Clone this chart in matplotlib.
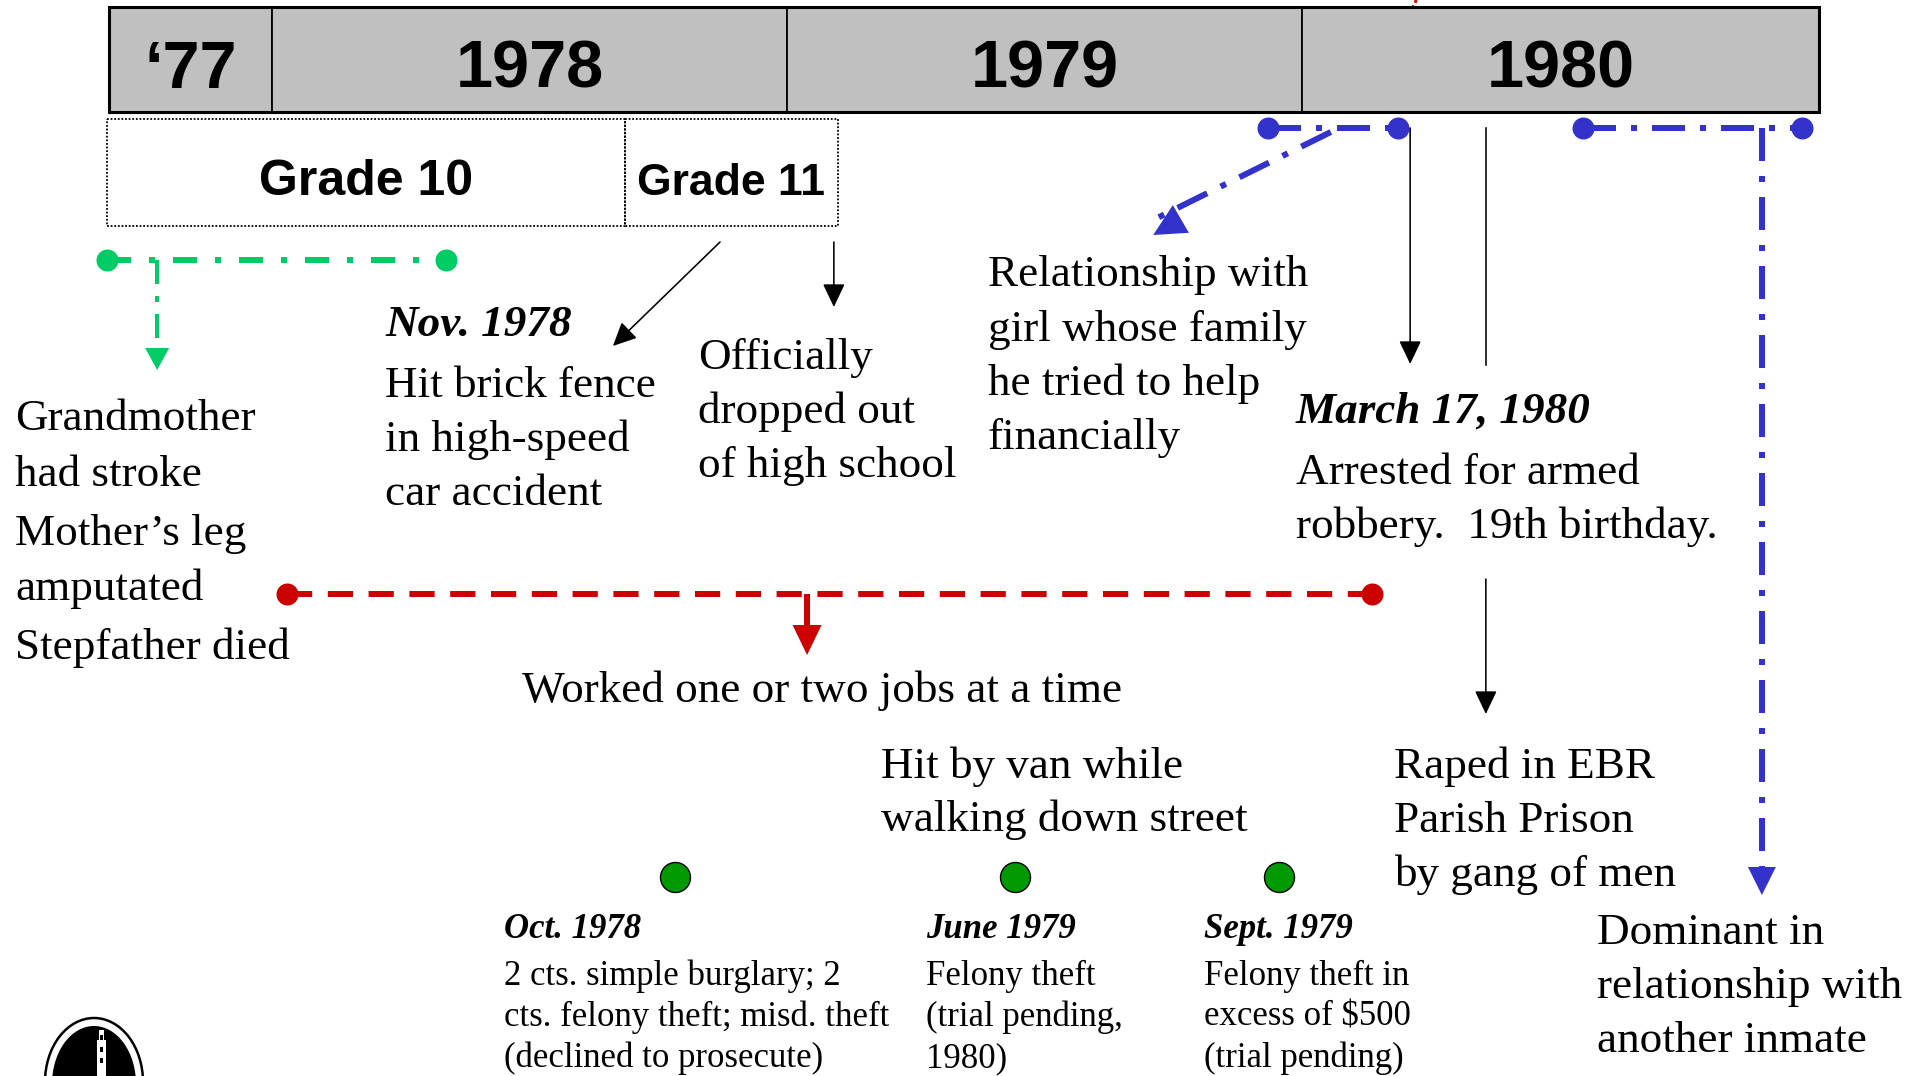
import matplotlib
matplotlib.use("Agg")
import matplotlib.pyplot as plt
from matplotlib.patches import Rectangle, Ellipse, FancyArrowPatch

# ---------------- data ----------------
year_labels = ["\u201877", "1978", "1979", "1980"]
year_edges = [1977.683, 1978.0, 1979.0, 1980.0, 1981.004]

grade_labels = ["Grade 10", "Grade 11"]
grade_edges = [1977.68, 1978.685, 1979.099]

green_span = [1977.68, 1978.338]
green_drop = 1977.777
red_span = [1978.029, 1980.136]
red_drop = 1979.039
blue_span1 = [1979.934, 1980.186]
blue_diag = [1980.056, 1979.711]
blue_span2 = [1980.546, 1980.971]
blue_drop = 1980.893

nov78_arrow = [1978.870, 1978.662]
dropout_date = 1979.091
arrest_date = 1980.210
prison_date = 1980.357

family_lines = ["Grandmother", "had stroke", "Mother\u2019s leg", "amputated", "Stepfather died"]
crash_head = "Nov. 1978"
crash_lines = ["Hit brick fence", "in high-speed", "car accident"]
dropout_lines = ["Officially", "dropped out", "of high school"]
girl_lines = ["Relationship with", "girl whose family", "he tried to help", "financially"]
arrest_head = "March 17, 1980"
arrest_lines = ["Arrested for armed", "robbery.  19th birthday."]
jobs_text = "Worked one or two jobs at a time"
van_lines = ["Hit by van while", "walking down street"]
prison_lines = ["Raped in EBR", "Parish Prison", "by gang of men"]
inmate_lines = ["Dominant in", "relationship with", "another inmate"]

offense_dates = [1978.783, 1979.443, 1979.955]
offense_heads = ["Oct. 1978", "June 1979", "Sept. 1979"]
offense_text = [
    ["2 cts. simple burglary; 2", "cts. felony theft; misd. theft", "(declined to prosecute)"],
    ["Felony theft", "(trial pending,", "1980)"],
    ["Felony theft in", "excess of $500", "(trial pending)"],
]

# ---------------- layout ----------------
W, H = 1923, 1076
PX_PER_YEAR = 515.0
X0 = 1978 - 272 / PX_PER_YEAR
X1 = X0 + W / PX_PER_YEAR

GREEN = "#00CC66"
RED = "#CC0000"
BLUE = "#3333CC"
DOTGREEN = "#009900"
GRAY = "#C0C0C0"

SERIF = ["Liberation Serif", "DejaVu Serif"]
SANS = ["Liberation Sans", "DejaVu Sans"]

fig = plt.figure(figsize=(W / 100, H / 100), dpi=100)
ax = fig.add_axes([0, 0, 1, 1])
ax.set_xlim(X0, X1)
ax.set_ylim(H, 0)
ax.axis("off")

PX = 72 / 100  # points per pixel


def hd(px):
    return px * PX


def yr(px):
    return X0 + px / PX_PER_YEAR


# year bar
bar_top, bar_h = 7, 105
for i, lab in enumerate(year_labels):
    e0, e1 = year_edges[i], year_edges[i + 1]
    ax.add_patch(Rectangle((e0, bar_top), e1 - e0, bar_h, fc=GRAY, ec="black", lw=1.3, zorder=1))
    ax.text((e0 + e1) / 2, 88, lab, ha="center", va="baseline", fontsize=48,
            fontweight="bold", family=SANS, zorder=2)
ax.add_patch(Rectangle((year_edges[0], bar_top), year_edges[-1] - year_edges[0], bar_h,
                       fill=False, ec="black", lw=2.2, zorder=3))

# grade boxes
grade_sizes = [36, 32]
for i, lab in enumerate(grade_labels):
    g0, g1 = grade_edges[i], grade_edges[i + 1]
    ax.add_patch(Rectangle((g0, 119), g1 - g0, 107, fill=False, ec="black", lw=1.3,
                           linestyle=(0, (1, 1)), zorder=2))
    ax.text((g0 + g1) / 2, 195, lab, ha="center", va="baseline", fontsize=grade_sizes[i],
            fontweight="bold", family=SANS)


def head(xt, yt, xh, yh, color, length_px, width_px, lw=0.0):
    ms = 10
    style = "-|>,head_length=%.3f,head_width=%.3f" % (hd(length_px) / ms, hd(width_px) / 2 / ms)
    ax.add_patch(FancyArrowPatch((xt, yt), (xh, yh), arrowstyle=style, mutation_scale=ms,
                                 color=color, lw=lw, shrinkA=0, shrinkB=0, zorder=4))


LW = hd(6)
dashdot_g = (0, (4, 3, 1, 3))
dashdot_b = (0, (5.5, 2.5, 1, 2.5))

# green span
gy = 260
ax.plot(green_span, [gy, gy], color=GREEN, lw=LW, linestyle=dashdot_g, dash_capstyle="butt")
ax.plot(green_span, [gy, gy], "o", color=GREEN, ms=hd(22), mec="none")
ax.plot([green_drop, green_drop], [gy, 350], color=GREEN, lw=hd(4), linestyle=(0, (6, 3, 1.5, 3)))
head(green_drop, gy, green_drop, 370, GREEN, 22, 24)

# red span
ry = 594
ax.plot(red_span, [ry, ry], color=RED, lw=LW, linestyle=(0, (4.2, 2.6)), dash_capstyle="butt")
ax.plot(red_span, [ry, ry], "o", color=RED, ms=hd(22), mec="none")
ax.plot([red_drop, red_drop], [ry, 628], color=RED, lw=LW, solid_capstyle="butt")
head(red_drop, ry, red_drop, 655, RED, 30, 29)
# small red fragment at the very top
ax.plot([arrest_date + 0.012, arrest_date + 0.004], [0, 9], color=RED, lw=hd(3), linestyle=(0, (1, 1)))

# blue spans
by = 128
ax.plot(blue_span1, [by, by], color=BLUE, lw=LW, linestyle=dashdot_b, dash_capstyle="butt")
ax.plot(blue_span1, [by, by], "o", color=BLUE, ms=hd(22), mec="none")
ax.plot(blue_diag, [132, 220], color=BLUE, lw=LW, linestyle=dashdot_b, dash_capstyle="butt")
head(blue_diag[0], 132, blue_diag[1], 235, BLUE, 32, 32)

ax.plot(blue_span2, [by, by], color=BLUE, lw=LW, linestyle=dashdot_b, dash_capstyle="butt")
ax.plot(blue_span2, [by, by], "o", color=BLUE, ms=hd(22), mec="none")
ax.plot([blue_drop, blue_drop], [by, 868], color=BLUE, lw=LW, linestyle=dashdot_b, dash_capstyle="butt")
head(blue_drop, by, blue_drop, 895, BLUE, 28, 28)

# black arrows
AL = hd(1.6)
head(nov78_arrow[0], 242, nov78_arrow[1], 346, "black", 20, 19, lw=AL)
head(dropout_date, 242, dropout_date, 307, "black", 20, 19, lw=AL)
head(arrest_date, 128, arrest_date, 364, "black", 20, 19, lw=AL)
ax.plot([prison_date, prison_date], [128, 365], color="black", lw=AL)
head(prison_date, 579, prison_date, 714, "black", 20, 19, lw=AL)

# offense dots
ax.plot(offense_dates, [877] * 3, "o", color=DOTGREEN, ms=hd(30), mec="black", mew=1.0, zorder=5)


def lines(x, ys, txts, size=32.5):
    for y, t in zip(ys, txts):
        ax.text(x, y, t, ha="left", va="baseline", fontsize=size, family=SERIF)


def bi(x, y, t, size=32.5):
    ax.text(x, y, t, ha="left", va="baseline", fontsize=size, family=SERIF,
            fontweight="bold", fontstyle="italic")


STEP = 54
lines(yr(15), [430, 486, 545, 600, 659], family_lines)
bi(yr(385), 336, crash_head)
lines(yr(385), [397 + i * STEP for i in range(3)], crash_lines)
lines(yr(698), [369 + i * STEP for i in range(3)], dropout_lines)
lines(yr(988), [286 + i * 54.5 for i in range(4)], girl_lines)
bi(yr(1296), 423, arrest_head)
lines(yr(1296), [484, 538], arrest_lines)
lines(yr(522), [702], [jobs_text])
lines(yr(881), [778, 831], van_lines)
lines(yr(1394), [778, 832, 886], prison_lines)
lines(yr(1597), [944, 998, 1052], inmate_lines)

offense_x = [yr(504), yr(926), yr(1204)]
for x, hdr, txt in zip(offense_x, offense_heads, offense_text):
    bi(x, 938, hdr, size=25)
    lines(x, [985, 1026, 1067], txt, size=25)

# logo (partially visible at bottom left)
ax.add_patch(Ellipse((yr(94), 1082), 98 / PX_PER_YEAR, 128, fc="white", ec="black", lw=1.8, zorder=2))
ax.add_patch(Ellipse((yr(94), 1084), 84 / PX_PER_YEAR, 116, fc="black", ec="none", zorder=3))
ax.add_patch(Rectangle((yr(97), 1040), 9 / PX_PER_YEAR, 40, fc="white", ec="none", zorder=4))
ax.add_patch(Rectangle((yr(98.5), 1030), 6 / PX_PER_YEAR, 11, fc="white", ec="none", zorder=4))
for wy in (1035, 1047, 1058):
    ax.add_patch(Rectangle((yr(99.5), wy), 4 / PX_PER_YEAR, 5, fc="black", ec="none", zorder=5))

fig.savefig("out.png", dpi=100, facecolor="white")
